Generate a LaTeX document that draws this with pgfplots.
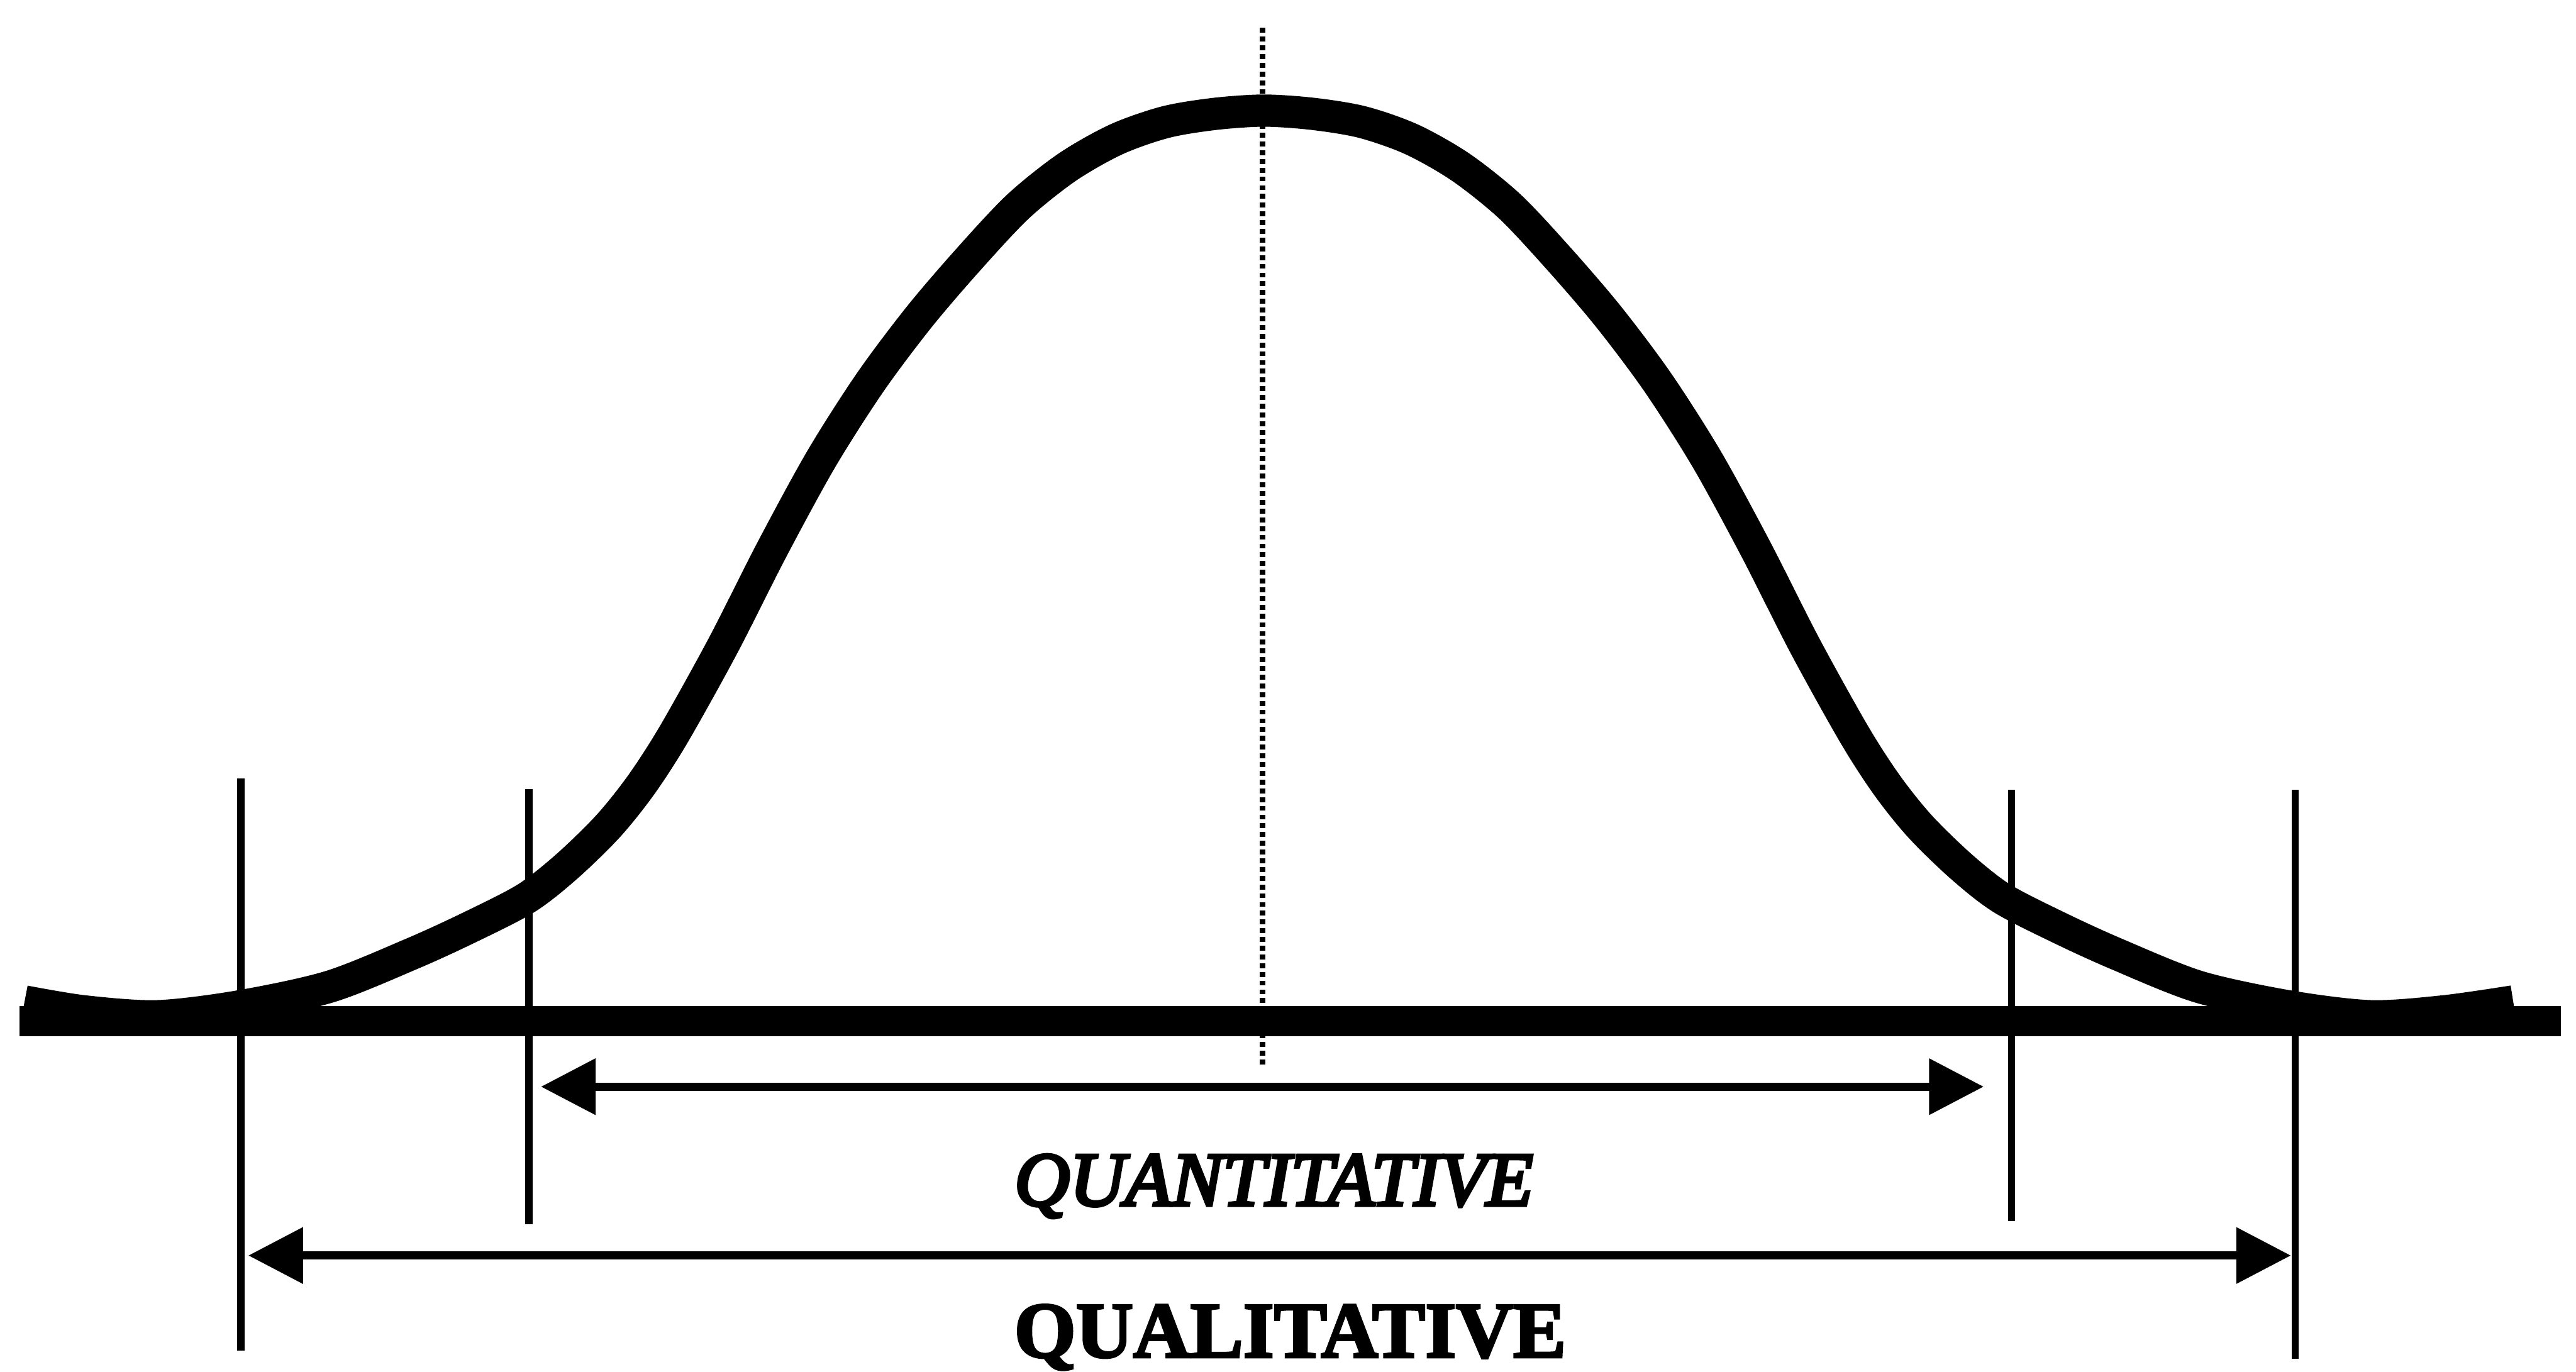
\documentclass[border=0pt]{standalone}
\usepackage{fontspec}
\setmainfont{Liberation Serif}
% heavier faces for the two range labels
\newfontfamily\quantfont{Liberation Serif}[ItalicFeatures={FakeBold=4.5}]
\newfontfamily\qualfont{Liberation Serif}[BoldFeatures={FakeBold=3}]
\usepackage{pgfplots}
\usepackage{pgfplotstable}
\pgfplotsset{compat=1.18}
\usetikzlibrary{arrows.meta}

% bell-shaped distribution (centre of the stroke), y measured downward
\pgfplotstableread{
x      y
15     611
51     617
96     620
146    614
201    602
251    582
286    566
321    548
346    528.4
371    504
391    479
411    448
441    394
471    335
501    280
531    233
561    193
591    158
621    126
651    102
681    85
711    74.5
741    69.5
771    67.5
801    69.5
831    74.5
861    85
891    102
921    126
951    158
981    193
1011   233
1041   280
1071   335
1101   394
1131   448
1151   479
1171   504
1196   528.4
1221   548
1256   566
1291   582
1341   602
1396   614
1446   620
1491   617
1533   611
}\bellcurve

\begin{document}
\begin{tikzpicture}
\begin{axis}[
  width=470.4pt, height=251.1pt, scale only axis,
  xmin=0, xmax=1568, ymin=0, ymax=837, y dir=reverse,
  axis line style={draw=none}, xtick=\empty, ytick=\empty,
  clip=false,
]
% mean
\addplot[black, line width=1pt, dash pattern=on 0.9pt off 0.7pt]
  coordinates {(770,17) (770,650)};
% distribution
\addplot[black, line width=5.9pt, smooth, tension=0.5, line join=round]
  table {\bellcurve};
% base line
\addplot[black, line width=5.6pt] coordinates {(12,623) (1562,623)};
% range limits
\addplot[black, line width=1.35pt] coordinates {(147,475) (147,824)};
\addplot[black, line width=1.35pt] coordinates {(322.6,481.5) (322.6,747)};
\addplot[black, line width=1.35pt] coordinates {(1227,482) (1227,745)};
\addplot[black, line width=1.35pt] coordinates {(1400,482) (1400,829)};
% range arrows
\addplot[black, line width=1.5pt,
  arrows={Triangle[length=10pt,width=10pt]-Triangle[length=10pt,width=10pt]}]
  coordinates {(330,663) (1210,663)};
\addplot[black, line width=1.5pt,
  arrows={Triangle[length=10pt,width=10pt]-Triangle[length=10pt,width=10pt]}]
  coordinates {(151.5,766) (1397.4,766)};
% labels
\node[anchor=base, inner sep=0pt, font=\quantfont\itshape\fontsize{14}{16}\selectfont]
  at (axis cs:777,735.4) {QUANTITATIVE};
\node[anchor=base, inner sep=0pt, font=\qualfont\bfseries\fontsize{14.5}{16}\selectfont]
  at (axis cs:787,828) {QUALITATIVE};
\end{axis}
\end{tikzpicture}
\end{document}
